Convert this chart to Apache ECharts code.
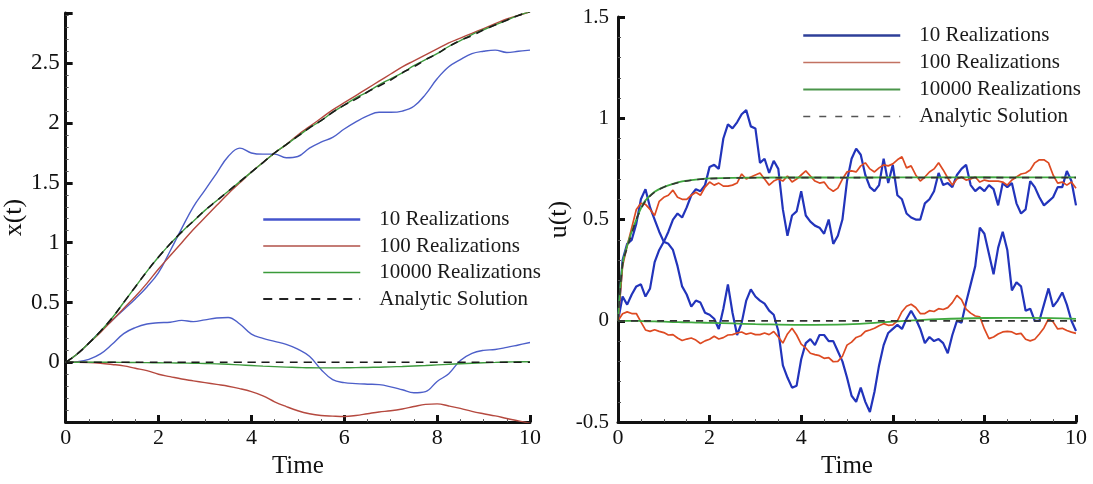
<!DOCTYPE html>
<html><head><meta charset="utf-8">
<script src="https://cdn.jsdelivr.net/npm/echarts@6/dist/echarts.min.js"></script>
<style>html,body{margin:0;padding:0;background:#fff}#c{width:1093px;height:484px}</style>
</head><body><div id="c"></div>
<script>
const seriesNames = ['10 Realizations', '100 Realizations', '10000 Realizations', 'Analytic Solution'];
const xTicks = [0, 2, 4, 6, 8, 10];
const leftYLabels = [0, 0.5, 1, 1.5, 2, 2.5];

// ---- Left panel: x(t), time step 0.25 ----
const tLeft = [0,0.25,0.5,0.75,1,1.25,1.5,1.75,2,2.25,2.5,2.75,3,3.25,3.5,3.75,4,4.25,4.5,4.75,5,5.25,5.5,5.75,6,6.25,6.5,6.75,7,7.25,7.5,7.75,8,8.25,8.5,8.75,9,9.25,9.5,9.75,10];
const xAnaUp   = [0,0.07,0.16,0.26,0.37,0.5,0.63,0.76,0.88,0.99,1.09,1.18,1.27,1.35,1.43,1.51,1.59,1.67,1.75,1.82,1.89,1.96,2.02,2.09,2.15,2.2,2.26,2.31,2.36,2.42,2.47,2.53,2.58,2.64,2.69,2.73,2.78,2.82,2.86,2.9,2.93];
const xGreenUp = [0,0.07,0.16,0.26,0.37,0.5,0.63,0.76,0.88,0.99,1.09,1.18,1.27,1.35,1.43,1.51,1.59,1.67,1.75,1.82,1.89,1.96,2.02,2.09,2.15,2.21,2.26,2.32,2.37,2.42,2.48,2.53,2.58,2.64,2.69,2.74,2.78,2.82,2.86,2.9,2.93];
const xRedUp   = [0,0.07,0.16,0.25,0.35,0.45,0.55,0.66,0.78,0.89,1.0,1.11,1.21,1.31,1.41,1.5,1.59,1.67,1.75,1.82,1.9,1.97,2.04,2.11,2.17,2.23,2.29,2.35,2.41,2.47,2.52,2.57,2.62,2.67,2.71,2.75,2.79,2.83,2.87,2.9,2.93];
const xBlueUp  = [0,0.07,0.16,0.26,0.35,0.44,0.53,0.63,0.75,0.93,1.12,1.3,1.44,1.58,1.72,1.79,1.75,1.74,1.74,1.71,1.72,1.79,1.84,1.88,1.95,2.01,2.06,2.09,2.09,2.1,2.14,2.24,2.37,2.47,2.53,2.58,2.6,2.61,2.59,2.6,2.61];
const xAnaLow  = [0,0,0,0,0,0,0,0,0,0,0,0,0,0,0,0,0,0,0,0,0,0,0,0,0,0,0,0,0,0,0,0,0,0,0,0,0,0,0,0,0];
const xGreenLow= [0,0,0,0,0,-0.001,-0.002,-0.003,-0.004,-0.005,-0.006,-0.008,-0.01,-0.013,-0.017,-0.022,-0.027,-0.032,-0.036,-0.04,-0.043,-0.046,-0.047,-0.047,-0.046,-0.045,-0.043,-0.041,-0.038,-0.035,-0.031,-0.027,-0.022,-0.017,-0.012,-0.008,-0.004,-0.001,0.002,0.004,0.005];
const xRedLow  = [0,0,-0.002,-0.008,-0.018,-0.03,-0.05,-0.07,-0.1,-0.12,-0.14,-0.155,-0.17,-0.185,-0.2,-0.22,-0.245,-0.28,-0.33,-0.37,-0.405,-0.43,-0.445,-0.45,-0.453,-0.445,-0.43,-0.415,-0.405,-0.39,-0.37,-0.352,-0.348,-0.365,-0.385,-0.41,-0.43,-0.448,-0.47,-0.49,-0.51];
const xBlueLow = [0,0.005,0.025,0.07,0.15,0.24,0.29,0.32,0.33,0.335,0.35,0.34,0.355,0.37,0.375,0.32,0.235,0.2,0.175,0.15,0.11,0.05,-0.06,-0.145,-0.17,-0.178,-0.183,-0.187,-0.205,-0.23,-0.255,-0.245,-0.16,-0.095,0.015,0.075,0.1,0.107,0.125,0.145,0.165];

// ---- Right panel: u(t) ----
const tRight = [0,0.1,0.2,0.3,0.4,0.5,0.6,0.7,0.8,0.9,1,1.1,1.2,1.3,1.4,1.5,1.6,1.7,1.8,1.9,2,2.1,2.2,2.3,2.4,2.5,2.6,2.7,2.8,2.9,3,3.1,3.2,3.3,3.4,3.5,3.6,3.7,3.8,3.9,4,4.1,4.2,4.3,4.4,4.5,4.6,4.7,4.8,4.9,5,5.1,5.2,5.3,5.4,5.5,5.6,5.7,5.8,5.9,6,6.1,6.2,6.3,6.4,6.5,6.6,6.7,6.8,6.9,7,7.1,7.2,7.3,7.4,7.5,7.6,7.7,7.8,7.9,8,8.1,8.2,8.3,8.4,8.5,8.6,8.7,8.8,8.9,9,9.1,9.2,9.3,9.4,9.5,9.6,9.7,9.8,9.9,10];
const uBlueUp = [0,0.12,0.08,0.13,0.17,0.18,0.12,0.16,0.29,0.35,0.39,0.44,0.5,0.53,0.51,0.56,0.62,0.65,0.64,0.67,0.76,0.77,0.75,0.9,0.97,0.95,0.98,1.02,1.04,0.96,0.95,0.78,0.8,0.73,0.79,0.75,0.55,0.42,0.52,0.54,0.64,0.52,0.49,0.47,0.46,0.43,0.5,0.38,0.42,0.5,0.69,0.8,0.85,0.82,0.72,0.66,0.64,0.67,0.8,0.68,0.77,0.62,0.6,0.53,0.51,0.5,0.5,0.58,0.6,0.64,0.73,0.67,0.68,0.66,0.72,0.75,0.77,0.67,0.64,0.66,0.64,0.67,0.65,0.57,0.68,0.66,0.68,0.58,0.53,0.55,0.69,0.66,0.61,0.57,0.59,0.61,0.66,0.66,0.74,0.69,0.57];
const uBlueLow = [0,0.3,0.38,0.4,0.48,0.6,0.65,0.56,0.5,0.44,0.39,0.38,0.35,0.27,0.17,0.13,0.07,0.1,0.09,0.04,0.03,0.01,-0.04,0.06,0.18,0.04,-0.07,-0.01,0.1,0.155,0.12,0.1,0.085,0.05,0.03,-0.05,-0.22,-0.28,-0.33,-0.32,-0.19,-0.11,-0.09,-0.12,-0.07,-0.07,-0.1,-0.1,-0.15,-0.2,-0.28,-0.37,-0.4,-0.33,-0.4,-0.45,-0.35,-0.22,-0.12,-0.06,-0.04,-0.02,-0.04,0.01,0.05,0.01,-0.04,-0.11,-0.08,-0.1,-0.09,-0.11,-0.16,-0.07,0,-0.01,0.09,0.18,0.27,0.46,0.43,0.33,0.23,0.36,0.44,0.35,0.15,0.19,0.17,0.05,0.06,0,0,0.08,0.16,0.07,0.1,0.14,0.08,0,-0.05];
const uRedUp = [0,0.27,0.37,0.46,0.55,0.58,0.575,0.55,0.52,0.59,0.61,0.62,0.645,0.61,0.6,0.6,0.62,0.635,0.62,0.66,0.685,0.67,0.68,0.665,0.665,0.67,0.68,0.725,0.7,0.71,0.72,0.73,0.7,0.67,0.69,0.7,0.69,0.715,0.685,0.7,0.72,0.74,0.715,0.69,0.68,0.685,0.655,0.64,0.655,0.7,0.735,0.74,0.735,0.765,0.78,0.75,0.735,0.755,0.77,0.765,0.775,0.795,0.81,0.755,0.765,0.72,0.69,0.71,0.735,0.75,0.78,0.745,0.705,0.67,0.7,0.71,0.695,0.7,0.71,0.685,0.695,0.69,0.69,0.69,0.685,0.67,0.695,0.71,0.725,0.73,0.745,0.78,0.795,0.795,0.78,0.72,0.68,0.685,0.67,0.685,0.655];
const uRedLow = [0,0.035,0.044,0.036,0.036,-0.005,-0.045,-0.052,-0.044,-0.052,-0.058,-0.07,-0.068,-0.085,-0.097,-0.09,-0.085,-0.095,-0.112,-0.099,-0.091,-0.076,-0.09,-0.083,-0.07,-0.068,-0.06,-0.055,-0.066,-0.06,-0.068,-0.068,-0.06,-0.068,-0.053,-0.08,-0.11,-0.065,-0.037,-0.07,-0.115,-0.134,-0.16,-0.167,-0.172,-0.185,-0.182,-0.202,-0.2,-0.175,-0.12,-0.105,-0.082,-0.074,-0.052,-0.045,-0.037,-0.024,-0.014,-0.022,-0.02,0,0.045,0.072,0.082,0.066,0.036,0.036,0.05,0.046,0.06,0.056,0.065,0.09,0.125,0.105,0.058,0.038,0.024,0.02,-0.04,-0.088,-0.08,-0.065,-0.055,-0.052,-0.055,-0.066,-0.062,-0.091,-0.099,-0.091,-0.065,-0.035,0.01,-0.005,-0.04,-0.037,-0.048,-0.056,-0.062];
const tRightSmooth = [0,0.1,0.2,0.3,0.4,0.5,0.6,0.8,1,1.2,1.4,1.6,1.8,2,2.5,3,4,5,6,7,8,9,10];
const uAnaUp   = [0,0.28,0.36,0.43,0.5,0.55,0.59,0.635,0.66,0.676,0.687,0.694,0.699,0.702,0.705,0.706,0.707,0.707,0.707,0.707,0.707,0.707,0.707];
const uGreenUp = [0,0.28,0.37,0.44,0.5,0.555,0.595,0.637,0.66,0.676,0.688,0.695,0.7,0.703,0.706,0.707,0.708,0.707,0.708,0.708,0.709,0.708,0.708];
const uAnaLow  = [0,0,0,0,0,0,0,0,0,0,0,0,0,0,0,0,0,0,0,0,0,0,0];
const uGreenLow= [0,0,0,0,0,-0.001,-0.002,-0.003,-0.004,-0.006,-0.007,-0.008,-0.009,-0.01,-0.013,-0.016,-0.02,-0.018,-0.004,0.008,0.014,0.015,0.01];

const FONT = 'Liberation Serif';
function pairs(t, v) { return t.map((x, i) => [x, v[i]]); }
function ln(name, gi, t, v, color, width, type, smooth) {
  return { name, type: 'line', xAxisIndex: gi, yAxisIndex: gi, data: pairs(t, v),
    symbol: 'none', showSymbol: false, smooth: smooth || false, clip: true, silent: true,
    lineStyle: { color, width, type: type || 'solid' }, itemStyle: { color },
    emphasis: { disabled: true } };
}
function xAx(gi) {
  return { type: 'value', gridIndex: gi, min: 0, max: 10, interval: 2,
    name: 'Time', nameLocation: 'middle', nameGap: 11,
    nameTextStyle: { fontFamily: FONT, fontSize: 25, color: '#111' },
    axisLine: { onZero: false, lineStyle: { color: '#111', width: 3 } },
    axisTick: { inside: true, length: 7, lineStyle: { width: 3, color: '#111' } },
    minorTick: { show: true, splitNumber: 4, length: 3, lineStyle: { width: 1, color: '#555' } },
    axisLabel: { fontFamily: FONT, fontSize: 22, color: '#111', margin: 5 },
    splitLine: { show: false }, minorSplitLine: { show: false } };
}
function yAx(gi, name, min, max, fs, gap, margin, labels) {
  const ax = { type: 'value', gridIndex: gi, min, max, interval: 0.5,
    name, nameLocation: 'middle', nameGap: gap, nameRotate: 90,
    nameTextStyle: { fontFamily: FONT, fontSize: 26, color: '#111' },
    axisLine: { onZero: false, lineStyle: { color: '#111', width: 3 } },
    axisTick: { inside: true, length: 7, lineStyle: { width: 3, color: '#111' } },
    minorTick: { show: true, splitNumber: 5, length: 3, lineStyle: { width: 1, color: '#555' } },
    axisLabel: { fontFamily: FONT, fontSize: fs, color: '#111', margin,
      formatter: v => (labels && labels.indexOf(Math.round(v * 100) / 100) < 0) ? '' : String(Math.round(v * 100) / 100) },
    splitLine: { show: false }, minorSplitLine: { show: false } };
  if (labels) ax.axisLabel.customValues = labels;
  return ax;
}
const hiddenSymbol = { color: 'rgba(0,0,0,0)', borderColor: 'rgba(0,0,0,0)', borderWidth: 0, opacity: 0 };
function legendOf(left, top, gap, styles) {
  return { left, top, orient: 'vertical', itemWidth: 97, itemHeight: 14, itemGap: gap, padding: 0,
    selectedMode: false,
    itemStyle: hiddenSymbol,
    textStyle: { fontFamily: FONT, fontSize: 21, color: '#1a1a1a', lineHeight: 21, padding: [0, 0, 0, 14] },
    data: seriesNames.map((n, i) => ({ name: n, lineStyle: styles[i], itemStyle: hiddenSymbol })) };
}

const LB = '#4d5fc9', LR = '#b5493f', LG = '#3d9a3d', LK = '#1a1a1a';
const RB = '#2234bb', RR = '#dd4a22', RG = '#3fa83f', RK = '#333333';

const option = {
  animation: false,
  backgroundColor: '#ffffff',
  grid: [
    { left: 65, top: 13, width: 465, height: 427 },
    { left: 618, top: 17, width: 458, height: 420 }
  ],
  xAxis: [xAx(0), xAx(1)],
  yAxis: [
    yAx(0, 'x(t)', -0.5, 2.92, 23, 34, 6, leftYLabels),
    yAx(1, 'u(t)', -0.5, 1.5, 21, 44, 9, null)
  ],
  legend: [
    legendOf(262, 209, 5.5, [
      { color: '#4455cc', width: 2.5 }, { color: '#b05048', width: 1.3 },
      { color: '#3a9a3a', width: 1.3 }, { color: '#222', width: 2, type: [9, 7] }]),
    legendOf(802, 25, 6, [
      { color: '#2e3f99', width: 2.5 }, { color: '#c27262', width: 1.6 },
      { color: '#4a954a', width: 2.2 }, { color: '#555', width: 1.5, type: [7, 9] }])
  ],
  series: [
    ln(seriesNames[0], 0, tLeft, xBlueUp, LB, 1.4, 'solid', 0.4),
    ln(seriesNames[0], 0, tLeft, xBlueLow, LB, 1.4, 'solid', 0.4),
    ln(seriesNames[1], 0, tLeft, xRedUp, LR, 1.4, 'solid', 0.4),
    ln(seriesNames[1], 0, tLeft, xRedLow, LR, 1.4, 'solid', 0.4),
    ln(seriesNames[2], 0, tLeft, xGreenUp, LG, 1.4, 'solid', 0.4),
    ln(seriesNames[2], 0, tLeft, xGreenLow, LG, 1.4, 'solid', 0.4),
    ln(seriesNames[3], 0, tLeft, xAnaUp, LK, 1.6, [8, 6], 0.4),
    ln(seriesNames[3], 0, tLeft, xAnaLow, LK, 1.6, [8, 6], 0.4),
    ln(seriesNames[0], 1, tRight, uBlueUp, RB, 2.2),
    ln(seriesNames[0], 1, tRight, uBlueLow, RB, 2.2),
    ln(seriesNames[1], 1, tRight, uRedUp, RR, 1.7),
    ln(seriesNames[1], 1, tRight, uRedLow, RR, 1.7),
    ln(seriesNames[2], 1, tRightSmooth, uGreenUp, RG, 1.8, 'solid', 0.4),
    ln(seriesNames[2], 1, tRightSmooth, uGreenLow, RG, 1.8, 'solid', 0.4),
    ln(seriesNames[3], 1, tRightSmooth, uAnaUp, RK, 1.6, [7, 6], 0.4),
    ln(seriesNames[3], 1, tRightSmooth, uAnaLow, RK, 1.6, [7, 6], 0.4)
  ]
};
const chart = echarts.init(document.getElementById('c'), null, { renderer: 'canvas' });
chart.setOption(option);
</script></body></html>
